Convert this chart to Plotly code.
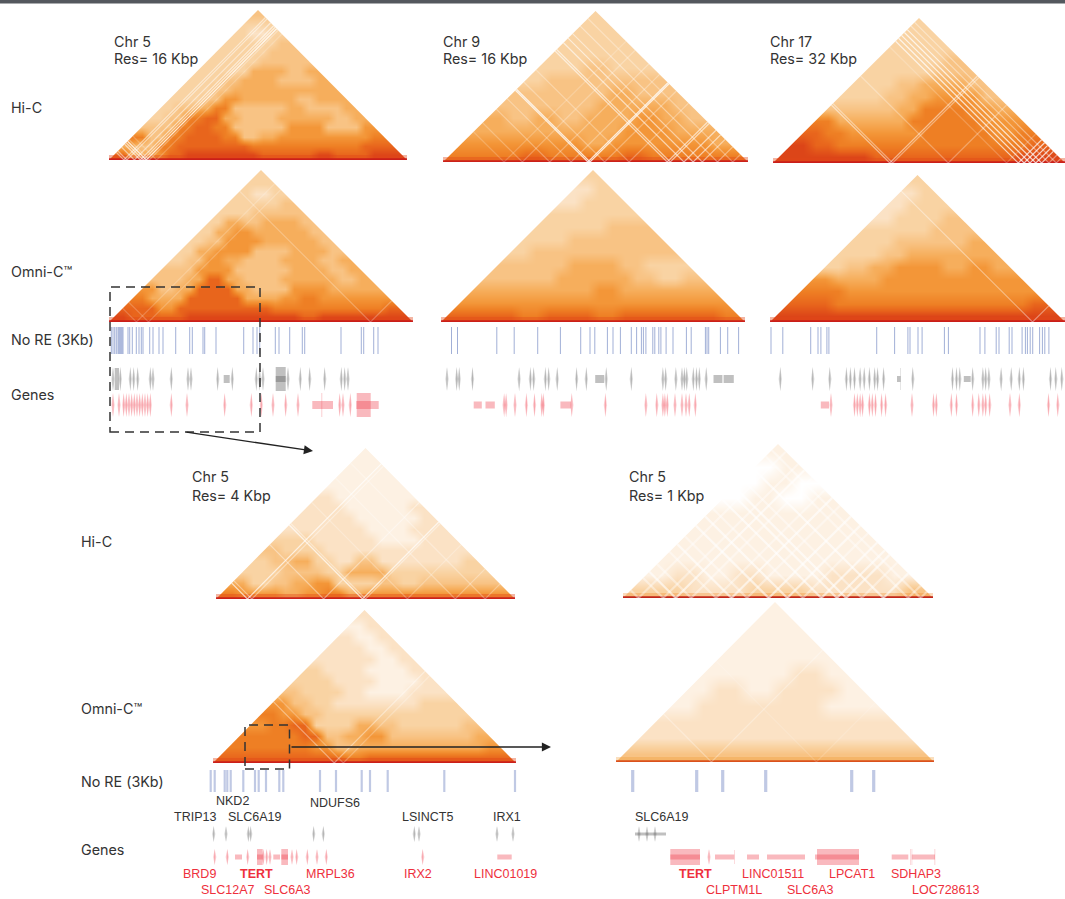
import plotly.graph_objects as go

# ---------- contact maps: row k = distance band (0 = base), values left to right, scale 0-10 ----------
hic_chr5_16k = [
 [8,5,6,8,9,9,9,9,8,8,8,9,8,8,9,9],
 [5,4,7,8,8,8,8,7,7,7,7,7,7,8,8],
 [7,4,7,8,8,7,4,5,6,6,6,6,6,7],
 [4,4,7,8,7,4,4,4,6,6,4,4,6],
 [3,4,7,8,5,4,4,5,5,5,4,5],
 [3,4,5,7,4,4,4,5,4,4,5],
 [3,3,4,6,5,5,5,4,5,5],
 [3,3,4,5,5,5,5,5,5],
 [3,3,4,5,5,4,4,5],
 [3,3,3,5,5,4,5],
 [3,3,3,4,4,4],
 [3,3,3,4,4],
 [3,3,3,4],
 [3,2,3],
 [3,3],
 [4]]
omni_chr5_16k = [
 [9,8,8,8,9,9,9,9,9,9,8,9,9,9,9,9],
 [8,8,6,8,8,8,8,8,7,7,7,7,7,7,8],
 [7,5,5,8,8,8,5,5,6,7,6,6,6,6],
 [6,4,5,8,8,5,4,4,6,6,5,5,5],
 [4,4,5,8,5,4,4,5,5,5,4,5],
 [4,4,6,6,4,4,4,5,5,4,5],
 [3,4,6,5,4,4,5,5,4,5],
 [3,5,6,6,4,4,5,5,4],
 [3,4,6,6,5,5,5,4],
 [3,5,6,5,5,5,4],
 [3,5,4,5,5,4],
 [3,3,4,4,4],
 [3,3,3,4],
 [3,2,3],
 [3,3],
 [3]]
hic_chr9_16k = [
 [7,7,7,8,7,7,7,8,7,7,7,7],
 [6,6,6,6,6,5,6,6,6,6,5],
 [5,5,5,5,5,5,6,6,5,5],
 [5,4,5,4,5,5,6,5,4],
 [4,4,4,4,5,5,5,4],
 [4,4,4,4,5,4,4],
 [3,4,4,4,4,4],
 [3,3,4,3,3],
 [3,3,3,3],
 [3,3,3],
 [3,3],
 [3]]
omni_chr9_16k = [
 [8,8,8,7,8,8,7,8,8,8,8,7],
 [6,6,6,6,6,6,6,6,6,6,6],
 [5,5,5,5,5,6,5,5,5,5],
 [4,4,4,5,5,5,4,3,4],
 [4,4,4,5,5,4,3,3],
 [3,4,4,4,4,4,4],
 [3,3,4,4,4,4],
 [3,3,3,4,4],
 [3,3,3,3],
 [2,3,3],
 [2,3],
 [3]]
hic_chr17_32k = [
 [9,9,9,9,8,8,8,8,8,8,9,9],
 [9,8,7,7,7,7,7,7,7,7,8],
 [8,7,6,6,6,7,7,7,6,7],
 [7,5,5,5,7,7,7,6,6],
 [4,4,4,5,7,7,6,5],
 [3,3,4,5,6,6,4],
 [3,3,4,5,5,4],
 [3,3,3,4,4],
 [3,3,3,4],
 [3,3,3],
 [3,3],
 [3]]
omni_chr17_32k = [
 [9,9,9,9,9,9,9,9,9,9,9,9],
 [8,8,7,7,7,7,7,7,7,7,8],
 [7,7,6,6,6,6,6,6,6,6],
 [6,5,5,6,6,6,6,6,6],
 [3,4,5,6,6,5,6,5],
 [3,3,4,5,5,5,5],
 [3,3,4,4,4,5],
 [3,3,3,4,4],
 [2,3,3,4],
 [2,3,3],
 [2,3],
 [3]]
hic_chr5_4k = [
 [7,6,6,5,6,7,5,6,6,6,6,6,6,6],
 [5,3,4,5,6,3,3,4,3,4,4,4,4],
 [3,3,4,4,3,5,5,3,3,3,3,3],
 [3,4,5,3,2,4,2,2,2,2,3],
 [4,3,3,2,2,2,2,2,2,2],
 [3,3,2,2,2,1,1,2,2],
 [2,2,2,2,1,1,2,2],
 [2,2,2,1,1,1,2],
 [2,2,1,1,1,2],
 [2,1,1,1,1],
 [1,1,1,1],
 [1,1,1],
 [1,1],
 [1]]
omni_chr5_4k = [
 [8,8,8,8,8,8,7,8,8,8,8,8,8,8],
 [7,7,7,7,6,4,5,5,5,5,5,5,6],
 [7,7,7,8,4,5,6,4,4,4,4,5],
 [6,7,8,3,3,5,4,3,3,3,4],
 [7,6,4,3,3,3,3,3,3,3],
 [6,4,3,2,2,2,2,3,3],
 [4,3,3,2,1,1,2,2],
 [3,3,2,2,1,1,2],
 [3,2,2,1,1,2],
 [2,2,2,1,2],
 [2,2,1,2],
 [2,1,2],
 [1,2],
 [2]]
hic_chr5_1k = [
 [3,3,2,2,3,3,2,2,2,4],
 [1,2,1,2,1,1,2,2,1],
 [1,1,1,1,1,1,1,1],
 [1,1,1,1,1,1,1],
 [1,1,1,1,1,1],
 [1,1,1,1,1],
 [0,1,0,1],
 [0,1,0],
 [0,1],
 [1]]
omni_chr5_1k = [
 [4,4,4,4,4,4,4,4,4,4],
 [2,2,2,2,2,2,2,2,2],
 [2,2,2,2,2,2,2,2],
 [1,2,2,2,2,1,1],
 [1,2,1,2,2,1],
 [1,1,1,2,1],
 [1,1,1,1],
 [1,1,1],
 [1,1],
 [1]]

# masked bins: (position along the region 0-1, strength 0-1)
hic_chr5_16k_masked = [(.05,.5),(.06,.5),(.085,.5),(.105,.6),(.115,.6),(.125,.8),(.135,.3),(.16,.2)]
omni_chr5_16k_masked = [(.09,.2),(.13,.2),(.86,.25)]
hic_chr9_16k_masked = [(.20,.2),(.26,.25),(.35,.3),(.42,.3),(.475,.8),(.482,.8),(.53,.3),(.61,.3),(.735,.6),(.745,.6),
                       (.79,.6),(.82,.6),(.85,.5),(.90,.4),(.95,.3)]
omni_chr9_16k_masked = []
hic_chr17_32k_masked = [(.40,.5),(.41,.4),(.60,.3),(.80,.2),(.84,.7),(.86,.75),(.88,.75),(.90,.75),(.92,.7),(.945,.4),(.97,.4)]
omni_chr17_32k_masked = [(.89,.4)]
hic_chr5_4k_masked = [(.105,.7),(.12,.4),(.36,.4),(.49,.7),(.50,.4),(.64,.25),(.80,.3),(.90,.3)]
omni_chr5_4k_masked = [(.40,.4),(.43,.25)]
hic_chr5_1k_masked = [(.05,.4),(.13,.4),(.17,.6),(.22,.4),(.30,.4),(.35,.6),(.40,.4),(.47,.6),(.53,.6),(.58,.4),
                      (.64,.6),(.69,.6),(.72,.6),(.77,.4),(.84,.6),(.92,.4),(.96,.4)]
omni_chr5_1k_masked = [(.30,.3),(.63,.15)]

# ---------- tracks: positions along each region ----------
nore_chr5_16k = [2.3,4,5.7,7.3,9,10,11,12,13,14,19,20.7,23.3,27.3,30,32.3,34,40.7,44,50,54,66.7,80.7,83.3,94,95.7,107,
                 134.7,144,148,150.7,166.3,170,180.7,193.3,195.7,232,252.3,254.7,264.7,269]
grey_chr5_16k = [4,11.3,21.3,24.7,28.7,41.3,44,62.3,79,82,108.7,123.3,147.3,150.7,154,179,191.3,200.7,215.7,232.3,235.7,239]
grey_boxes_chr5_16k = [(5.7,10,11),(114.7,120.7,4),(166.7,176.7,12),(166.7,176.7,3)]
red_chr5_16k = [4,10,14.7,17.3,20,22.7,25.3,28,30.7,33.3,36,38.7,41.3,62.3,78,115.7,142.3,152.3,164,176.7,189,230.7,234,241.3]
red_boxes_chr5_16k = [(203.3,224,4),(212.5,213.2,12),(247.7,261.7,12),(247.3,269.7,4)]

nore_chr9_16k = [10.5,16.5,55.8,73.2,96.7,119.4,139.7,149,153.8,166.4,172,179.4,190.3,195.6,200.4,202.4,204.9,211.8,213.8,
                 217.8,219.9,225.1,232,245.4,250.2,264.4,266,267.7,279.4,286.7,297.6]
grey_chr9_16k = [6,15.7,18.2,31.5,78.1,89.4,92.7,104.4,107.7,116.2,135.6,145.3,165.2,190.3,221.9,224.7,234.9,241,243.4,245.8,
                 252.3,255.5,258.3,265.2]
grey_boxes_chr9_16k = [(154.2,163.2,4),(272.5,281.4,4),(282.6,292.8,4)]
red_chr9_16k = [63.1,65.1,74,85.4,93.5,100.8,102.4,130.8,164.4,204.9,215.8,221.9,223.9,226.3,234,241,245,248.2,254.3]
red_boxes_chr9_16k = [(32.7,40.8,3.5),(44.5,53.8,3.5),(119.4,130,3.5)]

nore_chr17_32k = [1,12.8,40.7,48,50.9,56.9,58.9,106.7,124.6,137.9,140,148,152.1,174.4,178.4,210,214.9,226.2,229,239.2,242,
                  252.1,255.4,257.4,260.2,262.7,269.6,272.4,274.8,278.9]
grey_chr17_32k = [10.3,42.7,59.8,76.4,80.4,84.5,90.1,94.2,99.4,104.7,107.6,113.6,142.8,182.5,186.5,189.8,202.7,212.9,215.7,
                  218.9,231.1,241.2,249.3,253.4,280.5,285.8,291.8]
grey_boxes_chr17_32k = [(127,130.6,3),(130.3,130.7,11),(193.8,200.7,3)]
red_chr17_32k = [61,84.5,87.3,90.1,92.6,99.4,102.3,105.5,111.6,115.6,142,163.5,166.3,181.3,186.5,202.7,208.8,212.9,215.7,
                 219.7,240,249.3,278.5,287.8]
red_boxes_chr17_32k = [(50.8,59,3.5)]

nore_chr5_4k = [-2.3,1.7,11.7,14.3,17.7,30.3,42,45.7,53,66.3,70.3,107,123,148.7,157,174.7,231.3,302]
grey_chr5_4k = [0.7,13,35.3,37.7,100.7,110.3,201.3,206,284,300]
grey_boxes_chr5_4k = []
red_chr5_4k = [1.7,14.3,34.7,50.3,53.7,57,79,83.7,94.3,104,113.3,209.7]
red_boxes_chr5_4k = [(22,29,2.5),(44,49.7,8),(44,49.7,2.5),(60.3,67,2.5),(68.3,75,8),(68.3,75,2.5),(284.3,298.7,2.5)]

nore_chr5_1k = [16.7,80.7,106.7,149.7,235.7,257.7]
grey_chr5_1k = [23,31,39]
grey_boxes_chr5_1k = [(19,50,1.5)]
red_chr5_1k = [93]
red_boxes_chr5_1k = [(54.3,84,8),(54.3,84,2.5),(99,118.3,2.5),(118,118.5,7),(131,143,2.5),(151,189,2.5),(201,243,8),
                     (199,243,2.5),(275.7,292.3,2.5),(294,294.5,8),(295.7,296.2,8),(295.7,319,2.5),(318.6,319.2,8)]

# ---------- text ----------
row_labels = [("Hi-C",9,107),("Omni-C™",9,272),("No RE (3Kb)",9,340),("Genes",9,394),
              ("Hi-C",79,541),("Omni-C™",79,708),("No RE (3Kb)",79,781),("Genes",79,849)]
res_labels = [("Chr 5","Res= 16 Kbp",112,41),("Chr 9","Res= 16 Kbp",441,41),("Chr 17","Res= 32 Kbp",768,41),
              ("Chr 5","Res= 4 Kbp",190,477),("Chr 5","Res= 1 Kbp",627,477)]
black_genes = [("NKD2",232,801),("TRIP13",195,817),("SLC6A19",255,817),("NDUFS6",335,803),("LSINCT5",427,817),
               ("IRX1",507,817),("SLC6A19",662,817)]
red_genes = [("BRD9",199,874),("<b>TERT</b>",256,874),("MRPL36",330,874),("IRX2",418,874),("LINC01019",505,874),
             ("SLC12A7",228,890),("SLC6A3",288,890),("<b>TERT</b>",695,874),("LINC01511",773,874),("LPCAT1",852,874),
             ("SDHAP3",916,874),("CLPTM1L",734,890),("SLC6A3",810,890),("LOC728613",945,890)]

# ---------- layout constants ----------
FW, FH = 1065, 899
colorscale_stops = ["#ffffff","#fdf1e3","#fbe2c5","#f9d3a3","#f8c384","#f6ae5c","#f39638","#ee7f24","#e8651c","#dc4518","#b81414"]
colorscale = [[i/10, c] for i, c in enumerate(colorscale_stops)]

fig = go.Figure()
layout = {}
ax_n = [0]

def new_axes(x0, x1, y_top, y_bot, xr, yr):
    ax_n[0] += 1
    n = ax_n[0]
    s = "" if n == 1 else str(n)
    layout["xaxis" + s] = dict(domain=[x0 / FW, min(x1, FW) / FW], range=xr, visible=False, fixedrange=True, anchor="y" + s)
    layout["yaxis" + s] = dict(domain=[1 - y_bot / FH, 1 - y_top / FH], range=yr, visible=False, fixedrange=True, anchor="x" + s)
    return "x" + s, "y" + s

def poly(xa, ya, xs, ys, color):
    fig.add_trace(go.Scatter(x=xs, y=ys, mode="lines", fill="toself", fillcolor=color, line=dict(width=0),
                             hoverinfo="skip", showlegend=False, xaxis=xa, yaxis=ya))

def line(xa, ya, xs, ys, color, width):
    fig.add_trace(go.Scatter(x=xs, y=ys, mode="lines", line=dict(color=color, width=width),
                             hoverinfo="skip", showlegend=False, xaxis=xa, yaxis=ya))

def triangle(rows, masked, x0, x1, y_apex, y_base, base=("rgba(200,25,25,.9)", "rgba(225,70,25,.4)"), stripe_w=1.2):
    W, H = x1 - x0, y_base - y_apex
    xa, ya = new_axes(x0, x1, y_apex, y_base, [0, W], [0, H])
    N = len(rows)
    # each band k sits on half-cell columns; its value fills its own cells, edge values pad the masked corners
    grid = []
    for k, r in enumerate(rows):
        row = [r[0]] * k
        for v in r:
            row += [v, v]
        row += [r[-1]] * k
        grid.append(row)
    xs = [(c + .5) * W / (2 * N) for c in range(2 * N)]
    ys = [(k + .5) * H / N for k in range(N)]
    fig.add_trace(go.Heatmap(x=xs, y=ys, z=grid, zmin=0, zmax=10, colorscale=colorscale, showscale=False,
                             zsmooth="best", hoverinfo="skip", xaxis=xa, yaxis=ya))
    poly(xa, ya, [0, 0, W / 2, 0], [0, H, H, 0], "#ffffff")
    poly(xa, ya, [W, W, W / 2, W], [0, H, H, 0], "#ffffff")
    line(xa, ya, [0, W], [2.5, 2.5], base[1], 5)
    line(xa, ya, [0, W], [.8, .8], base[0], 1.8)
    for p, s in masked:
        col = "rgba(255,255,255,{})".format(s)
        line(xa, ya, [p * W, p / 2 * W], [0, p * H], col, stripe_w)
        line(xa, ya, [p * W, (p + (1 - p) / 2) * W], [0, (1 - p) * H], col, stripe_w)

def lens(xa, ya, pos, yc, hh, color):
    for p in pos:
        for w, op in ((1.7, .2), (.7, .32)):
            poly(xa, ya, [p - w, p, p + w, p, p - w], [yc, yc - hh, yc, yc + hh, yc], color.format(op))

def boxes(xa, ya, items, yc, color, op=.36):
    for a, b, h in items:
        poly(xa, ya, [a, b, b, a, a], [yc - h, yc - h, yc + h, yc + h, yc - h], color.format(op))

GREY = "rgba(90,90,90,{})"
RED = "rgba(238,60,75,{})"

def tracks(x0, x1, y_top, y_bot, nore, y_nore, bar_w, bar_col, grey, grey_boxes, y_grey, red, red_boxes, y_red, hh, pad=0):
    right = min(x1 + 3, FW)
    xa, ya = new_axes(x0 - pad, right, y_top, y_bot, [-pad, right - x0], [y_bot - y_top, 0])
    fig.add_trace(go.Bar(x=nore, y=[y_nore[1] - y_nore[0]] * len(nore), base=y_nore[0] - y_top, width=bar_w,
                         marker=dict(color=bar_col, line=dict(width=0)), hoverinfo="skip", showlegend=False,
                         xaxis=xa, yaxis=ya))
    lens(xa, ya, grey, y_grey - y_top, hh, GREY)
    boxes(xa, ya, grey_boxes, y_grey - y_top, GREY, .38)
    lens(xa, ya, red, y_red - y_top, hh, RED)
    boxes(xa, ya, red_boxes, y_red - y_top, RED)

# triangles
triangle(hic_chr5_16k, hic_chr5_16k_masked, 109, 407, 10, 160)
triangle(hic_chr9_16k, hic_chr9_16k_masked, 443, 748, 11, 162)
triangle(hic_chr17_32k, hic_chr17_32k_masked, 773, 1065, 18, 163)
triangle(omni_chr5_16k, omni_chr5_16k_masked, 109, 413, 170, 322)
triangle(omni_chr9_16k, omni_chr9_16k_masked, 441, 745, 170, 322)
triangle(omni_chr17_32k, omni_chr17_32k_masked, 770, 1065, 175, 322)
triangle(hic_chr5_4k, hic_chr5_4k_masked, 216, 515, 448, 599)
triangle(omni_chr5_4k, omni_chr5_4k_masked, 213, 516, 610, 763)
triangle(hic_chr5_1k, hic_chr5_1k_masked, 623, 933, 444, 598, base=("rgba(190,30,20,.95)", "rgba(240,130,30,.3)"), stripe_w=2.2)
triangle(omni_chr5_1k, omni_chr5_1k_masked, 616, 934, 602, 762, base=("rgba(215,70,20,.9)", "rgba(240,150,40,.3)"))

# tracks
TOP = (327, 354)
BLUE1 = "rgba(70,98,175,.5)"
BLUE2 = "rgba(150,165,210,.6)"
tracks(109, 413, 325, 420, nore_chr5_16k, TOP, 1.0, BLUE1, grey_chr5_16k, grey_boxes_chr5_16k, 379, red_chr5_16k, red_boxes_chr5_16k, 405, 12)
tracks(441, 745, 325, 420, nore_chr9_16k, TOP, 1.0, BLUE1, grey_chr9_16k, grey_boxes_chr9_16k, 379, red_chr9_16k, red_boxes_chr9_16k, 405, 12)
tracks(770, 1065, 325, 420, nore_chr17_32k, TOP, 1.0, BLUE1, grey_chr17_32k, grey_boxes_chr17_32k, 379, red_chr17_32k, red_boxes_chr17_32k, 405, 12)
LOW = (770, 792)
tracks(213, 516, 768, 870, nore_chr5_4k, LOW, 2.2, BLUE2, grey_chr5_4k, grey_boxes_chr5_4k, 834, red_chr5_4k, red_boxes_chr5_4k, 857, 8, pad=5)
tracks(616, 936, 768, 870, nore_chr5_1k, LOW, 3.2, BLUE2, grey_chr5_1k, grey_boxes_chr5_1k, 834, red_chr5_1k, red_boxes_chr5_1k, 857, 8)

# text
def px(x): return x / FW
def py(y): return 1 - y / FH
ann = []
def text(t, x, y, size, color, family, anchor="center"):
    ann.append(dict(text=t, x=px(x), y=py(y), xref="paper", yref="paper", showarrow=False, xanchor=anchor,
                    yanchor="middle", font=dict(size=size, color=color, family=family)))
UI = "Inter, Roboto, sans-serif"
GENE = "Liberation Sans, Arial, sans-serif"
for t, x, y in row_labels:
    text(t, x, y, 14.3, "#333333", UI, "left")
for a, b, x, y in res_labels:
    text(a, x, y, 14.3, "#333333", UI, "left")
    text(b, x, y + 18, 14.3, "#333333", UI, "left")
for t, x, y in black_genes:
    text(t, x, y, 12.5, "#333333", GENE)
for t, x, y in red_genes:
    text(t, x, y, 12.5, "#ee2f3c", GENE)

for (tx, ty, hx, hy) in [(185, 432, 313, 451), (290, 747, 551, 747)]:
    ann.append(dict(x=px(hx), y=py(hy), xref="paper", yref="paper", ax=tx - hx, ay=ty - hy, axref="pixel", ayref="pixel",
                    text="", showarrow=True, arrowhead=2, arrowsize=1.4, arrowwidth=1.3, arrowcolor="#222222"))

shapes = [
    dict(type="rect", xref="paper", yref="paper", x0=0, x1=1, y0=py(3.5), y1=1, fillcolor="#54585e", line=dict(width=0)),
    dict(type="rect", xref="paper", yref="paper", x0=px(110), x1=px(260), y0=py(432), y1=py(287),
         line=dict(color="#333333", width=1.5, dash="9px,6px")),
    dict(type="rect", xref="paper", yref="paper", x0=px(245), x1=px(289.5), y0=py(769), y1=py(725),
         line=dict(color="#333333", width=1.5, dash="9px,6px")),
]

fig.update_layout(width=FW, height=FH, margin=dict(l=0, r=0, t=0, b=0, pad=0), paper_bgcolor="white", plot_bgcolor="rgba(0,0,0,0)",
                  showlegend=False, barmode="overlay", annotations=ann, shapes=shapes, **layout)
fig.write_html("out.html", config=dict(displayModeBar=False),
               post_script="document.body.style.margin='0';document.body.style.overflow='hidden';window.dispatchEvent(new Event('resize'));")
